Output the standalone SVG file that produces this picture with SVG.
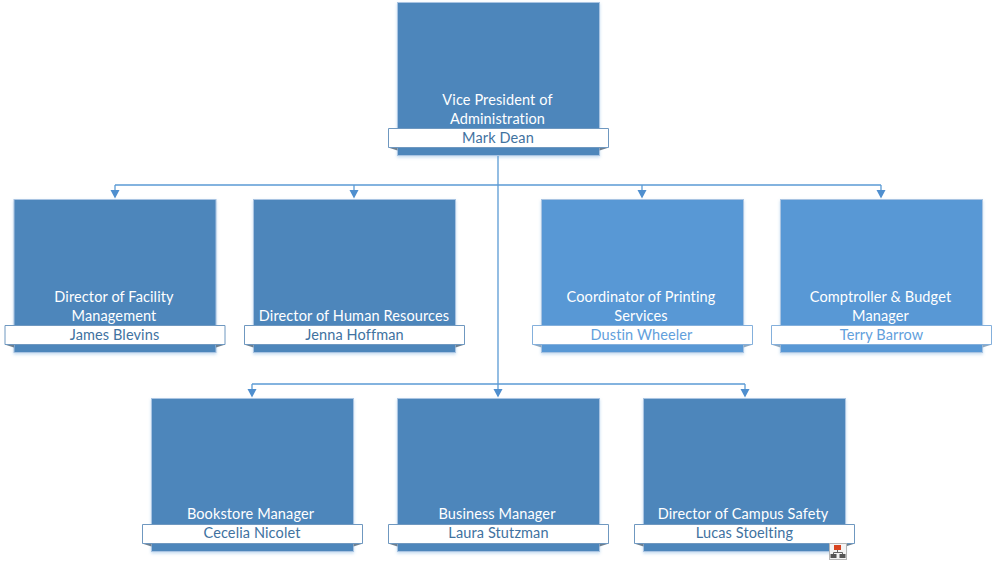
<svg xmlns="http://www.w3.org/2000/svg" width="997" height="566" viewBox="0 0 997 566">
<style>
text{font-family:Lato,"Open Sans",sans-serif;font-size:14.5px;letter-spacing:.12px;text-anchor:middle}
.dark{--fill:#4e86bb;--edge:#6f98c0;--crease:#6d7f90;--ink:#41729f}
.light{--fill:#5898d5;--edge:#84b0dc;--crease:#8fa8c0;--ink:#62a0dc}
.box{fill:var(--fill);stroke:#a9c4e2;stroke-width:1}
.tag{fill:#fff;stroke:var(--edge);stroke-width:1;stroke-linejoin:round}
.fold{fill:var(--crease)}
.title{fill:#fff}
.name{fill:var(--ink)}
.wire{fill:none;stroke:#5b9bd5;stroke-width:1.3}
.tip{fill:#4f8fcf}
</style>
<defs>
<filter id="soft" x="-5%" y="-5%" width="110%" height="112%"><feDropShadow dx="0" dy="1.500" stdDeviation="1.500" flood-color="#5b9bd5" flood-opacity=".35"/></filter>
<g id="card">
<rect class="box" x="-101" y="-153.500" width="202" height="153" filter="url(#soft)"/>
<path class="fold" d="M-110.500-8.500L-101-5.500V-8.500ZM110.500-8.500L101-5.500V-8.500Z"/>
<path class="tag" d="M-110-27.500H110V-8.500H-110Z"/>
</g>
<path id="tip" class="tip" d="M-4.500-6H4.500L0 2.500Z"/>
</defs>
<g id="connectors">
<path class="wire" d="M498 156V393M115 185H881M115 185V194M354 185V194M642 185V194M881 185V194M252 384H745M252 384V392M745 384V392"/>
<use href="#tip" x="115" y="196"/>
<use href="#tip" x="354" y="196"/>
<use href="#tip" x="642" y="196"/>
<use href="#tip" x="881" y="196"/>
<use href="#tip" x="252" y="395"/>
<use href="#tip" x="498" y="395"/>
<use href="#tip" x="745" y="395"/>
</g>
<g id="vp" class="dark"><use href="#card" x="498.500" y="156"/><text class="title" x="497.500" y="105">Vice President of</text><text class="title" x="497.500" y="124">Administration</text><text class="name" x="498" y="142.500">Mark Dean</text></g>
<g id="facility" class="dark"><use href="#card" x="115" y="353"/><text class="title" x="114" y="302">Director of Facility</text><text class="title" x="114" y="321">Management</text><text class="name" x="114.500" y="340">James Blevins</text></g>
<g id="hr" class="dark"><use href="#card" x="354.500" y="353"/><text class="title" x="354" y="321">Director of Human Resources</text><text class="name" x="354.500" y="340">Jenna Hoffman</text></g>
<g id="printing" class="light"><use href="#card" x="642.500" y="353"/><text class="title" x="641" y="302">Coordinator of Printing</text><text class="title" x="641" y="321">Services</text><text class="name" x="641.500" y="340">Dustin Wheeler</text></g>
<g id="budget" class="light"><use href="#card" x="881.500" y="353"/><text class="title" x="880.500" y="302">Comptroller &amp; Budget</text><text class="title" x="880.500" y="321">Manager</text><text class="name" x="881.500" y="340">Terry Barrow</text></g>
<g id="bookstore" class="dark"><use href="#card" x="252.500" y="552"/><text class="title" x="250.500" y="519">Bookstore Manager</text><text class="name" x="252" y="538">Cecelia Nicolet</text></g>
<g id="business" class="dark"><use href="#card" x="498.500" y="552"/><text class="title" x="497" y="519">Business Manager</text><text class="name" x="498.500" y="538">Laura Stutzman</text></g>
<g id="safety" class="dark"><use href="#card" x="744.500" y="552"/><text class="title" x="743" y="519">Director of Campus Safety</text><text class="name" x="744.500" y="538">Lucas Stoelting</text></g>
<g id="org-badge">
<rect x="829.500" y="543.500" width="17" height="16" fill="#f4f4f4" stroke="#b5b5b5"/>
<rect x="834" y="545" width="7" height="5" fill="#d8431f"/>
<path d="M837.500 550V552M833.500 554V552.500H842.500V554" fill="none" stroke="#666"/>
<rect x="830.500" y="554" width="6" height="4" fill="#555"/><rect x="839.500" y="554" width="6" height="4" fill="#555"/>
</g>
</svg>
